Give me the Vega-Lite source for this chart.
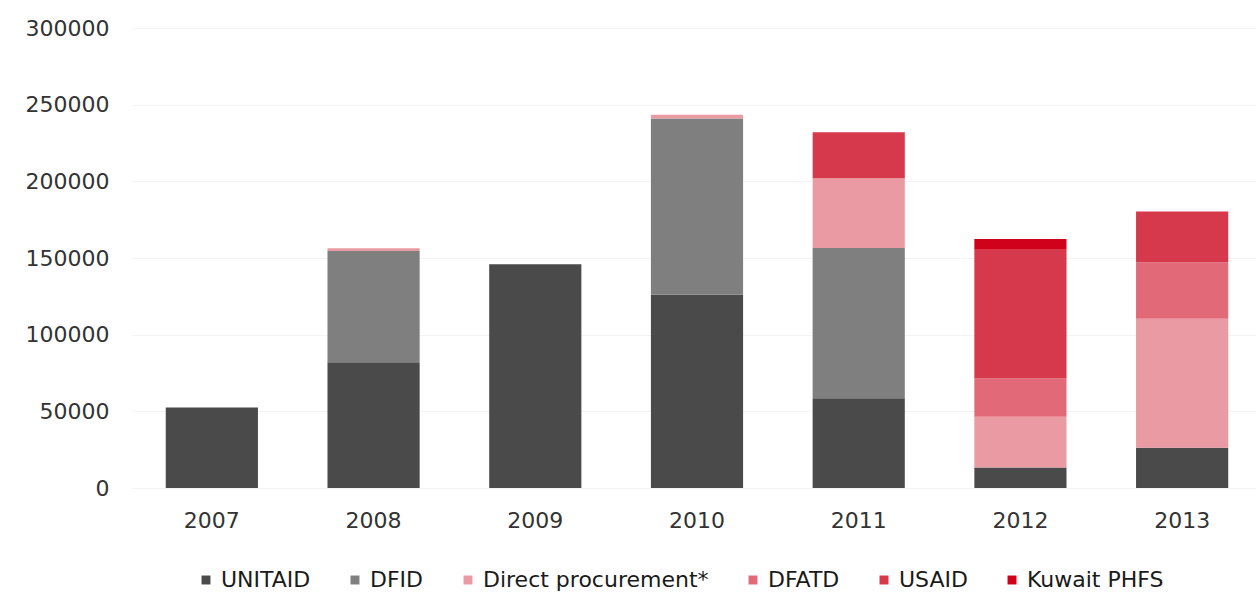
{
  "$schema": "https://vega.github.io/schema/vega-lite/v6.json",
  "width": 1132,
  "height": 460,
  "autosize": {"type": "none"},
  "padding": {"left": 131, "top": 28, "right": 0, "bottom": 105},
  "background": "white",
  "config": {
    "view": {"stroke": null},
    "font": "DejaVu Sans",
    "axis": {"labelFont": "DejaVu Sans", "labelColor": "#333333", "labelFontSize": 22},
    "legend": {"labelFont": "DejaVu Sans", "labelFontSize": 22, "labelFontWeight": "normal", "labelColor": "#1a1a1a"}
  },
  "data": {
    "values": [
      {"year": "2007", "donor": "UNITAID", "o": 1, "value": 52500},
      {"year": "2008", "donor": "UNITAID", "o": 1, "value": 82000},
      {"year": "2008", "donor": "DFID", "o": 2, "value": 72500},
      {"year": "2008", "donor": "Direct procurement*", "o": 3, "value": 1800},
      {"year": "2009", "donor": "UNITAID", "o": 1, "value": 146000},
      {"year": "2010", "donor": "UNITAID", "o": 1, "value": 126000},
      {"year": "2010", "donor": "DFID", "o": 2, "value": 115000},
      {"year": "2010", "donor": "Direct procurement*", "o": 3, "value": 2500},
      {"year": "2011", "donor": "UNITAID", "o": 1, "value": 58500},
      {"year": "2011", "donor": "DFID", "o": 2, "value": 98000},
      {"year": "2011", "donor": "Direct procurement*", "o": 3, "value": 45500},
      {"year": "2011", "donor": "USAID", "o": 5, "value": 30000},
      {"year": "2012", "donor": "UNITAID", "o": 1, "value": 13400},
      {"year": "2012", "donor": "Direct procurement*", "o": 3, "value": 33000},
      {"year": "2012", "donor": "DFATD", "o": 4, "value": 25000},
      {"year": "2012", "donor": "USAID", "o": 5, "value": 84000},
      {"year": "2012", "donor": "Kuwait PHFS", "o": 6, "value": 7000},
      {"year": "2013", "donor": "UNITAID", "o": 1, "value": 26300},
      {"year": "2013", "donor": "Direct procurement*", "o": 3, "value": 84000},
      {"year": "2013", "donor": "DFATD", "o": 4, "value": 37000},
      {"year": "2013", "donor": "USAID", "o": 5, "value": 33000}
    ]
  },
  "mark": {"type": "bar"},
  "encoding": {
    "x": {
      "field": "year", "type": "ordinal",
      "scale": {"paddingInner": 0.43, "paddingOuter": 0.215},
      "axis": {"title": null, "labelAngle": 0, "ticks": false, "domain": false, "labelPadding": 22}
    },
    "y": {
      "field": "value", "type": "quantitative", "stack": "zero",
      "scale": {"domain": [0, 300000], "nice": false},
      "axis": {"title": null, "values": [0, 50000, 100000, 150000, 200000, 250000, 300000], "format": "d", "ticks": false, "domain": false, "labelPadding": 22, "gridColor": "#f3f3f3", "gridWidth": 1}
    },
    "color": {
      "field": "donor", "type": "nominal",
      "scale": {
        "domain": ["UNITAID", "DFID", "Direct procurement*", "DFATD", "USAID", "Kuwait PHFS"],
        "range": ["#4a4a4a", "#7f7f7f", "#e99aa2", "#e26a78", "#d6394c", "#d0021b"]
      },
      "legend": {"title": null, "orient": "none", "legendX": 64, "legendY": 541, "padding": 0, "direction": "horizontal", "symbolType": "square", "symbolSize": 80, "symbolStrokeWidth": 0, "columnPadding": 33, "labelOffset": 4, "labelLimit": 400}
    },
    "order": {"field": "o", "type": "quantitative"}
  }
}
